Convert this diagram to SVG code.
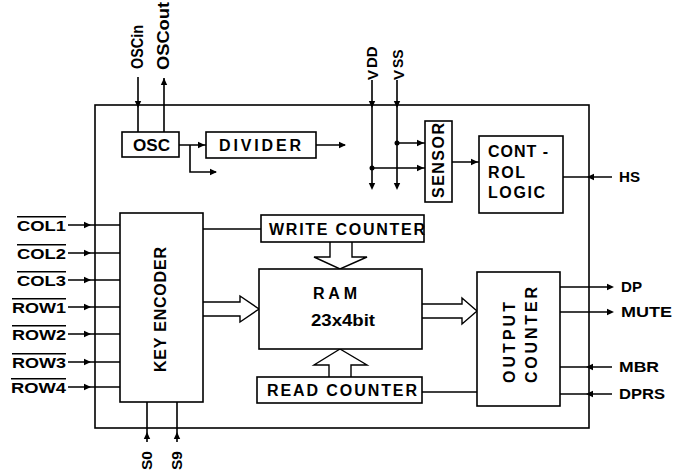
<svg xmlns="http://www.w3.org/2000/svg" xmlns:xlink="http://www.w3.org/1999/xlink" width="673" height="472" viewBox="0 0 673 472">
<style>
.b{fill:#fff;stroke:#000;stroke-width:1.6}
.w{fill:none;stroke:#000;stroke-width:1.6}
.h{fill:#fff;stroke:#000;stroke-width:1.4;stroke-linejoin:miter}
text{font-family:"Liberation Sans",Arial,sans-serif;font-weight:bold;font-size:16px;fill:#000}
.l{font-size:15px}
.ov{text-decoration:overline;font-size:15px}
</style>
<defs>
<path id="ah" d="M0,0 L-7,-3.2 L-7,3.2 Z" fill="#000"/>
</defs>
<rect x="95" y="105" width="494" height="323" class="w"/>
<g id="connectors">
<path class="w" d="M138,77 V132 M164,132 V78"/>
<use xlink:href="#ah" transform="translate(138,108) rotate(90)"/>
<use xlink:href="#ah" transform="translate(164,78) rotate(-90)"/>
<path class="w" d="M179,145 H206 M190,145 V172 H216 M316,145 H345"/>
<use xlink:href="#ah" transform="translate(205,145)"/>
<use xlink:href="#ah" transform="translate(217,172)"/>
<use xlink:href="#ah" transform="translate(346,145)"/>
<path class="w" d="M372,80 V188 M397,80 V188 M397,143 H425 M372,168 H425 M452,162 H479"/>
<use xlink:href="#ah" transform="translate(372,108) rotate(90)"/>
<use xlink:href="#ah" transform="translate(397,108) rotate(90)"/>
<use xlink:href="#ah" transform="translate(372,190) rotate(90)"/>
<use xlink:href="#ah" transform="translate(397,190) rotate(90)"/>
<use xlink:href="#ah" transform="translate(424,143)"/>
<use xlink:href="#ah" transform="translate(424,168)"/>
<use xlink:href="#ah" transform="translate(478,162)"/>
<circle cx="397" cy="143" r="2.5"/>
<circle cx="372" cy="168" r="2.5"/>
<path class="w" d="M563,177 H612"/>
<use xlink:href="#ah" transform="translate(587,177) rotate(180)"/>
<path class="w" d="M68,225 H120 M68,253 H120 M68,280 H120 M68,307 H120 M68,334 H120 M68,362 H120 M68,387 H120"/>
<use xlink:href="#ah" transform="translate(91,225)"/>
<use xlink:href="#ah" transform="translate(91,253)"/>
<use xlink:href="#ah" transform="translate(91,280)"/>
<use xlink:href="#ah" transform="translate(91,307)"/>
<use xlink:href="#ah" transform="translate(91,334)"/>
<use xlink:href="#ah" transform="translate(91,362)"/>
<use xlink:href="#ah" transform="translate(91,387)"/>
<path class="w" d="M147,402 V442 M177,402 V442"/>
<use xlink:href="#ah" transform="translate(147,432) rotate(-90)"/>
<use xlink:href="#ah" transform="translate(177,432) rotate(-90)"/>
<path class="w" d="M203,229 H261 M422,392 H477"/>
<path class="w" d="M560,287 H612 M560,312 H612 M560,367 H612 M560,394 H612"/>
<use xlink:href="#ah" transform="translate(614,287)"/>
<use xlink:href="#ah" transform="translate(614,312)"/>
<use xlink:href="#ah" transform="translate(586,367) rotate(180)"/>
<use xlink:href="#ah" transform="translate(586,394) rotate(180)"/>
<path class="h" d="M330,242 V257 H314 L340,269 L367,257 H352 V242"/>
<path class="h" d="M329,377 V365 H314 L340,349 L367,365 H351 V377"/>
<path class="h" d="M203,302 H240 V296 L259,309 L240,322 V316 H203"/>
<path class="h" d="M422,304 H462 V298 L477,311 L462,324 V318 H422"/>
</g>
<g id="osc"><rect x="122" y="132" width="57" height="25" class="b"/><text x="133" y="151" textLength="37" lengthAdjust="spacingAndGlyphs">OSC</text></g>
<g id="divider"><rect x="206" y="132" width="110" height="26" class="b"/><text x="219" y="151" textLength="82" lengthAdjust="spacing">DIVIDER</text></g>
<g id="sensor"><rect x="425" y="121" width="27" height="81" class="b"/><text transform="translate(444,198) rotate(-90)" font-size="15" textLength="75" lengthAdjust="spacing">SENSOR</text></g>
<g id="control"><rect x="479" y="136" width="84" height="77" class="b"/>
<text x="488" y="157" textLength="60" lengthAdjust="spacing">CONT -</text>
<text x="488" y="178" textLength="37" lengthAdjust="spacing">ROL</text>
<text x="488" y="198" textLength="57" lengthAdjust="spacing">LOGIC</text></g>
<g id="keyenc"><rect x="120" y="213" width="83" height="189" class="b"/><text transform="translate(166,372) rotate(-90)" textLength="125" lengthAdjust="spacing">KEY ENCODER</text></g>
<g id="writec"><rect x="261" y="215" width="163" height="27" class="b"/><text x="269" y="235" textLength="156" lengthAdjust="spacing">WRITE COUNTER</text></g>
<g id="ram"><rect x="259" y="269" width="163" height="80" class="b"/><text x="313" y="299" textLength="44" lengthAdjust="spacing">RAM</text><text x="311" y="326" textLength="64" lengthAdjust="spacingAndGlyphs">23x4bit</text></g>
<g id="readc"><rect x="257" y="377" width="165" height="26" class="b"/><text x="267" y="396" textLength="150" lengthAdjust="spacing">READ COUNTER</text></g>
<g id="outc"><rect x="477" y="272" width="83" height="134" class="b"/>
<text transform="translate(515,383) rotate(-90)" textLength="81" lengthAdjust="spacing">OUTPUT</text>
<text transform="translate(537,383) rotate(-90)" textLength="96" lengthAdjust="spacing">COUNTER</text></g>
<g id="labels">
<text transform="translate(143,69) rotate(-90)" textLength="44" lengthAdjust="spacingAndGlyphs">OSCin</text>
<text transform="translate(169,70) rotate(-90)" textLength="68" lengthAdjust="spacingAndGlyphs">OSCout</text>
<text class="l" transform="translate(378,80) rotate(-90)">V<tspan dy="-1" dx="2">DD</tspan></text>
<text class="l" transform="translate(404,80) rotate(-90)">V<tspan dy="-1" dx="2" font-size="14">SS</tspan></text>
<text class="l" x="619" y="182" textLength="21" lengthAdjust="spacingAndGlyphs">HS</text>
<text class="l" x="621" y="292" textLength="21" lengthAdjust="spacingAndGlyphs">DP</text>
<text class="l" x="621" y="317" textLength="51" lengthAdjust="spacingAndGlyphs">MUTE</text>
<text class="l" x="619" y="372" textLength="40" lengthAdjust="spacingAndGlyphs">MBR</text>
<text class="l" x="619" y="399" textLength="46" lengthAdjust="spacingAndGlyphs">DPRS</text>
<text class="ov" x="17" y="231" textLength="49" lengthAdjust="spacingAndGlyphs">COL1</text>
<text class="ov" x="17" y="259" textLength="49" lengthAdjust="spacingAndGlyphs">COL2</text>
<text class="ov" x="17" y="286" textLength="49" lengthAdjust="spacingAndGlyphs">COL3</text>
<text class="ov" x="12" y="313" textLength="54" lengthAdjust="spacingAndGlyphs">ROW1</text>
<text class="ov" x="12" y="340" textLength="54" lengthAdjust="spacingAndGlyphs">ROW2</text>
<text class="ov" x="12" y="368" textLength="54" lengthAdjust="spacingAndGlyphs">ROW3</text>
<text class="ov" x="11" y="393" textLength="55" lengthAdjust="spacingAndGlyphs">ROW4</text>
<text class="l" transform="translate(152,470) rotate(-90)" textLength="19" lengthAdjust="spacingAndGlyphs">S0</text>
<text class="l" transform="translate(182,470) rotate(-90)" textLength="19" lengthAdjust="spacingAndGlyphs">S9</text>
</g>
</svg>
